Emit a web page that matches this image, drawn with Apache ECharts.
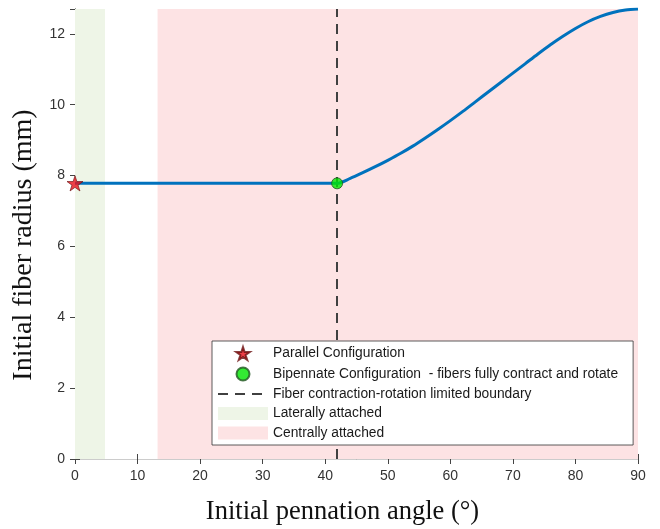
<!DOCTYPE html>
<html>
<head>
<meta charset="utf-8">
<script src="https://cdn.jsdelivr.net/npm/echarts@6/dist/echarts.min.js"></script>
<style>
  html, body { margin: 0; padding: 0; background: #fff; }
  #chart { width: 660px; height: 529px; }
</style>
</head>
<body>
<div id="chart"></div>
<script>
// curve: flat until the boundary, then rising
const angles = [0, 40, 41.9, 44, 46, 48, 50, 52, 54, 56, 58, 60, 62, 64, 66, 68, 70, 72, 74, 76, 78, 80, 82, 84, 86, 88, 90];
const radius = [7.78, 7.78, 7.78, 7.92, 8.08, 8.25, 8.43, 8.62, 8.83, 9.06, 9.3, 9.55, 9.81, 10.08, 10.35, 10.62, 10.89, 11.16, 11.43, 11.69, 11.93, 12.15, 12.34, 12.49, 12.6, 12.67, 12.7];

const parallelPoint = [0, 7.78];
const bipennatePoint = [41.9, 7.78];
const boundaryAngle = 41.9;
const lateralRange = [0, 4.8];
const centralRange = [13.2, 90];

const yTicks = [0, 2, 4, 6, 8, 10, 12];
const yMax = 12.7;

const names = {
  parallel: 'Parallel Configuration',
  bipennate: 'Bipennate Configuration  - fibers fully contract and rotate',
  boundary: 'Fiber contraction-rotation limited boundary',
  lateral: 'Laterally attached',
  central: 'Centrally attached'
};

const starPath = 'path://M0,-10L2.245,-3.09L9.51,-3.09L3.633,1.18L5.878,8.09L0,3.82L-5.878,8.09L-3.633,1.18L-9.51,-3.09L-2.245,-3.09Z';
const sans = 'Liberation Sans, Arial, sans-serif';
const serif = 'Liberation Serif, Times New Roman, serif';

const chart = echarts.init(document.getElementById('chart'));

const axisLine = { show: true, lineStyle: { color: '#666', width: 1 } };
const tick = { show: true, inside: true, length: 5, lineStyle: { color: '#444' } };
const dashStyle = { color: '#404040', width: 2, type: [10, 7] };

const option = {
  animation: false,
  backgroundColor: '#fff',
  grid: { left: 75, right: 22, top: 9, bottom: 70, containLabel: false, outerBoundsMode: 'none' },
  legend: {
    orient: 'vertical',
    left: 212,
    top: 341,
    z: 20,
    padding: [5, 15, 5, 5],
    itemWidth: 50,
    itemHeight: 13,
    itemGap: 5.5,
    selectedMode: false,
    backgroundColor: '#fff',
    borderColor: '#333',
    borderWidth: 0.8,
    textStyle: { fontFamily: sans, fontSize: 13.8, color: '#1a1a1a', lineHeight: 14 },
    data: [
      { name: names.parallel },
      { name: names.bipennate },
      { name: names.boundary, itemStyle: { opacity: 0 } },
      { name: names.lateral, icon: 'rect' },
      { name: names.central, icon: 'rect' }
    ]
  },
  xAxis: [
    {
      type: 'value', position: 'bottom', min: 0, max: 90, interval: 10,
      axisLine: axisLine, axisTick: tick, splitLine: { show: false },
      axisLabel: { color: '#333', fontFamily: sans, fontSize: 14, margin: 10 },
      name: 'Initial pennation angle (°)', nameLocation: 'middle', nameGap: 40,
      nameTextStyle: { fontFamily: serif, fontSize: 26.5, color: '#111', padding: [0, 28, 0, 0] }
    },
    {
      type: 'value', position: 'top', min: 0, max: 90, interval: 10,
      axisLine: { show: true, lineStyle: { color: '#ccc' } }, axisTick: tick,
      axisLabel: { show: false }, splitLine: { show: false }
    }
  ],
  yAxis: [
    {
      type: 'value', position: 'left', min: 0, max: yMax, interval: 2,
      axisLine: axisLine, axisTick: tick,
      splitLine: { show: false },
      axisLabel: { color: '#333', fontFamily: sans, fontSize: 14, margin: 10, customValues: yTicks },
      name: 'Initial fiber radius (mm)', nameLocation: 'middle', nameGap: 37,
      nameTextStyle: { fontFamily: serif, fontSize: 28, color: '#111', padding: [0, 22, 0, 0] }
    },
    {
      type: 'value', position: 'right', min: 0, max: yMax, interval: 2,
      axisLine: axisLine, axisTick: tick,
      axisLabel: { show: false }, splitLine: { show: false }
    }
  ],
  series: [
    {
      name: names.lateral, type: 'line', data: [], color: '#eef5e7', z: 1,
      markArea: { silent: true, itemStyle: { color: '#eef5e7' }, data: [[{ xAxis: lateralRange[0] }, { xAxis: lateralRange[1] }]] }
    },
    {
      name: names.central, type: 'line', data: [], color: '#fde3e4', z: 1,
      markArea: { silent: true, itemStyle: { color: '#fde3e4' }, data: [[{ xAxis: centralRange[0] }, { xAxis: centralRange[1] }]] }
    },
    {
      // vertical boundary drawn as a markLine so the legend box covers it
      name: names.boundary, type: 'line', data: [], z: 1,
      symbol: 'none', color: '#404040', lineStyle: dashStyle,
      markLine: {
        silent: true, z: 1, symbol: ['none', 'none'],
        label: { show: false }, lineStyle: dashStyle,
        data: [{ xAxis: boundaryAngle }]
      }
    },
    {
      name: 'curve', type: 'line', z: 2,
      data: angles.map((a, i) => [a, radius[i]]),
      symbol: 'none', smooth: 0.3,
      lineStyle: { color: '#0072BD', width: 3 }
    },
    {
      name: names.bipennate, type: 'scatter', z: 2,
      data: [bipennatePoint], symbol: 'circle', symbolSize: 11,
      itemStyle: { color: '#00e600', borderColor: '#225522', borderWidth: 1 }
    },
    {
      name: names.parallel, type: 'scatter', z: 3,
      data: [parallelPoint], symbol: starPath, symbolSize: 16, symbolKeepAspect: true,
      itemStyle: { color: '#e8101a', borderColor: '#6a1010', borderWidth: 0.8 }
    }
  ]
};

chart.setOption(option);
</script>
</body>
</html>
